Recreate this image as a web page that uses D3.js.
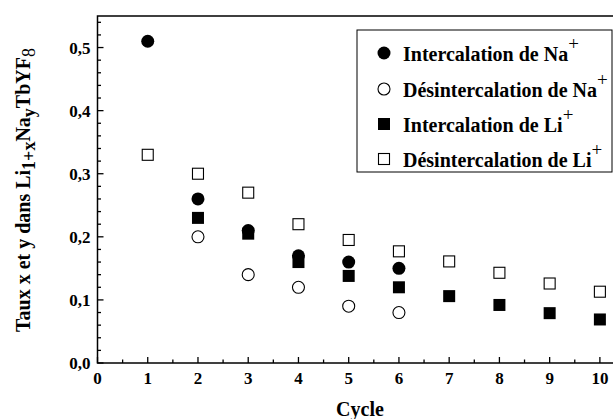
<!DOCTYPE html>
<html><head><meta charset="utf-8">
<script src="https://cdn.jsdelivr.net/npm/d3@7/dist/d3.min.js"></script>
<style>body{margin:0;background:#fff}svg{display:block}text{font-family:"Liberation Serif","Times New Roman",serif;font-weight:bold;fill:#000}</style>
</head><body><svg id="c" width="613" height="419"></svg>
<script>
const naIntCycles = [1,2,3,4,5,6];
const naIntValues = [0.51,0.26,0.21,0.17,0.16,0.15];
const naDesCycles = [2,3,4,5,6];
const naDesValues = [0.20,0.14,0.12,0.09,0.08];
const liIntCycles = [2,3,4,5,6,7,8,9,10];
const liIntValues = [0.23,0.205,0.16,0.138,0.12,0.106,0.092,0.079,0.069];
const liDesCycles = [1,2,3,4,5,6,7,8,9,10];
const liDesValues = [0.33,0.30,0.27,0.22,0.195,0.177,0.161,0.143,0.126,0.113];
const xTicks = [0,1,2,3,4,5,6,7,8,9,10];
const yTicks = [0,0.1,0.2,0.3,0.4,0.5];
const yTickLabels = ["0,0","0,1","0,2","0,3","0,4","0,5"];
const legendLabels = ["Intercalation de Na","Désintercalation de Na","Intercalation de Li","Désintercalation de Li"];

const svg = d3.select("#c");
const L=97.5, R=622.5, T=16, B=363;
const x = d3.scaleLinear().domain([0,10.45]).range([L,R]);
const y = d3.scaleLinear().domain([0,0.55]).range([B,T]);

// frame
svg.append("rect").attr("x",L).attr("y",T).attr("width",R-L).attr("height",B-T)
  .attr("fill","none").attr("stroke","#000").attr("stroke-width",1.5);

// x ticks
const xMinor = d3.range(0.5,10.5,1);
svg.append("g").selectAll("line").data(xTicks).join("line")
  .attr("x1",d=>x(d)).attr("x2",d=>x(d)).attr("y1",B).attr("y2",B-6).attr("stroke","#000").attr("stroke-width",1.3);
svg.append("g").selectAll("line").data(xMinor).join("line")
  .attr("x1",d=>x(d)).attr("x2",d=>x(d)).attr("y1",B).attr("y2",B-3.5).attr("stroke","#000").attr("stroke-width",1.3);
svg.append("g").selectAll("text").data(xTicks).join("text")
  .attr("x",d=>x(d)).attr("y",B+21).attr("text-anchor","middle").attr("font-size",17).text(d=>d);

// y ticks
const yMinor = d3.range(0.02,0.55,0.02).filter(v=>Math.abs(v*10-Math.round(v*10))>0.01);
svg.append("g").selectAll("line").data(yTicks).join("line")
  .attr("x1",L).attr("x2",L+6).attr("y1",d=>y(d)).attr("y2",d=>y(d)).attr("stroke","#000").attr("stroke-width",1.3);
svg.append("g").selectAll("line").data(yMinor).join("line")
  .attr("x1",L).attr("x2",L+3.5).attr("y1",d=>y(d)).attr("y2",d=>y(d)).attr("stroke","#000").attr("stroke-width",1.3);
svg.append("g").selectAll("text").data(yTicks).join("text")
  .attr("x",L-7).attr("y",d=>y(d)+6).attr("text-anchor","end").attr("font-size",17).text((d,i)=>yTickLabels[i]);

// axis titles
svg.append("text").attr("x",(L+R)/2).attr("y",416).attr("text-anchor","middle").attr("font-size",20).text("Cycle");
const yt = svg.append("text").attr("transform","translate(30,190) rotate(-90)").attr("text-anchor","middle").attr("font-size",20);
yt.append("tspan").text("Taux x et y dans Li");
yt.append("tspan").attr("dy",5).attr("font-size",18).text("1+x");
yt.append("tspan").attr("dy",-5).text("Na");
yt.append("tspan").attr("dy",5).attr("font-size",18).text("y");
yt.append("tspan").attr("dy",-5).text("TbYF");
yt.append("tspan").attr("dy",5).attr("font-size",18).attr("font-weight","normal").text("8");

// markers
function circles(cx, vals, fill){
  svg.append("g").selectAll("circle").data(cx.map((c,i)=>[c,vals[i]])).join("circle")
    .attr("cx",d=>x(d[0])).attr("cy",d=>y(d[1])).attr("r",fill?6.5:6)
    .attr("fill",fill?"#000":"#fff").attr("stroke","#000").attr("stroke-width",fill?0:1.1);
}
function squares(cx, vals, fill){
  const s = fill?12:11;
  svg.append("g").selectAll("rect").data(cx.map((c,i)=>[c,vals[i]])).join("rect")
    .attr("x",d=>x(d[0])-s/2).attr("y",d=>y(d[1])-s/2).attr("width",s).attr("height",s)
    .attr("fill",fill?"#000":"#fff").attr("stroke","#000").attr("stroke-width",fill?0:1.1);
}
squares(liDesCycles, liDesValues, false);
circles(naDesCycles, naDesValues, false);
squares(liIntCycles, liIntValues, true);
circles(naIntCycles, naIntValues, true);

// legend
const lg = svg.append("g");
lg.append("rect").attr("x",357).attr("y",30).attr("width",255).attr("height",142)
  .attr("fill","#fff").attr("stroke","#000").attr("stroke-width",1);
const ly = [53,89,124,159];
lg.append("circle").attr("cx",384).attr("cy",ly[0]).attr("r",6.5).attr("fill","#000");
lg.append("circle").attr("cx",384).attr("cy",ly[1]).attr("r",6).attr("fill","#fff").attr("stroke","#000").attr("stroke-width",1.1);
lg.append("rect").attr("x",378).attr("y",ly[2]-6).attr("width",12).attr("height",12).attr("fill","#000");
lg.append("rect").attr("x",378.5).attr("y",ly[3]-5.5).attr("width",11).attr("height",11).attr("fill","#fff").attr("stroke","#000").attr("stroke-width",1.1);
legendLabels.forEach((t,i)=>{
  const tx = lg.append("text").attr("x",403).attr("y",ly[i]+8).attr("font-size",20);
  tx.append("tspan").text(t);
  tx.append("tspan").attr("dy",-11).attr("font-size",19).attr("font-weight","normal").text("+");
});
</script></body></html>
